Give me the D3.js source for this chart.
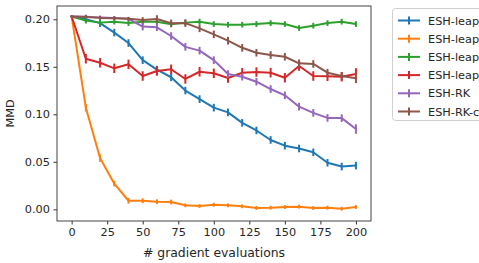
<!DOCTYPE html>
<html><head><meta charset="utf-8">
<script src="https://cdn.jsdelivr.net/npm/d3@7"></script>
<style>body{margin:0;background:#fff;} svg{display:block;font-family:"DejaVu Sans",sans-serif;}</style>
</head><body>
<svg id="c" width="479" height="263"></svg>
<script>
const xs = [0,10,20,30,40,50,60,70,80,90,100,110,120,130,140,150,160,170,180,190,200];
const seriesNames = ["ESH-leapfrog","ESH-leapfrog-ts","ESH-leapfrog-stoch","ESH-leapfrog-lin","ESH-RK","ESH-RK-const"];
const colors = ["#1f77b4","#ff7f0e","#2ca02c","#d62728","#9467bd","#8c564b"];
const blue   = [0.203,0.200,0.196,0.186,0.175,0.157,0.147,0.139,0.125,0.116,0.107,0.102,0.091,0.083,0.073,0.067,0.064,0.060,0.049,0.045,0.046];
const orange = [0.203,0.107,0.054,0.027,0.009,0.009,0.008,0.0077,0.0042,0.0035,0.0048,0.0042,0.0032,0.0014,0.0017,0.0024,0.0028,0.0014,0.0017,0.0007,0.0024];
const green  = [0.203,0.1986,0.1965,0.1975,0.196,0.1975,0.1975,0.1947,0.1965,0.1975,0.195,0.1943,0.1943,0.195,0.196,0.195,0.1908,0.1933,0.196,0.1975,0.195];
const red    = [0.203,0.1585,0.1543,0.1484,0.1526,0.1403,0.1456,0.1474,0.1372,0.1448,0.1432,0.1382,0.1438,0.1445,0.1438,0.1385,0.1508,0.1403,0.140,0.1396,0.1425];
const purple = [0.203,0.2028,0.202,0.2015,0.2005,0.1923,0.1916,0.1824,0.171,0.167,0.157,0.1424,0.1396,0.1343,0.1266,0.1200,0.108,0.1015,0.0962,0.0960,0.0845];
const brown  = [0.203,0.2025,0.2015,0.201,0.2005,0.1993,0.2003,0.1958,0.196,0.1905,0.1842,0.1775,0.170,0.1648,0.1624,0.1606,0.1537,0.153,0.1438,0.1403,0.1379];
const errBlue   = [0.001,0.003,0.004,0.004,0.004,0.004,0.004,0.004,0.004,0.004,0.004,0.004,0.004,0.004,0.004,0.004,0.004,0.004,0.004,0.004,0.004];
const errOrange = [0.001,0.004,0.004,0.003,0.003,0.0025,0.0025,0.0025,0.002,0.002,0.002,0.002,0.002,0.002,0.002,0.002,0.002,0.002,0.002,0.002,0.002];
const errGreen  = [0.001,0.003,0.003,0.003,0.003,0.003,0.003,0.003,0.003,0.003,0.003,0.003,0.003,0.003,0.003,0.003,0.003,0.003,0.003,0.003,0.003];
const errRed    = [0.001,0.005,0.005,0.005,0.005,0.005,0.005,0.005,0.005,0.005,0.005,0.005,0.005,0.005,0.005,0.005,0.005,0.005,0.005,0.005,0.006];
const errPurple = [0.001,0.002,0.002,0.002,0.002,0.004,0.004,0.004,0.004,0.004,0.004,0.004,0.004,0.004,0.004,0.004,0.004,0.004,0.004,0.004,0.005];
const errBrown  = [0.001,0.002,0.002,0.002,0.002,0.003,0.004,0.004,0.004,0.004,0.004,0.004,0.004,0.004,0.004,0.004,0.004,0.004,0.004,0.004,0.005];
const xTicks = [0,25,50,75,100,125,150,175,200];
const yTicks = [0.00,0.05,0.10,0.15,0.20];

const values = [blue,orange,green,red,purple,brown];
const errs = [errBlue,errOrange,errGreen,errRed,errPurple,errBrown];

const svg = d3.select("#c");
const L=57,R=371,T=6,B=221;
const x = d3.scaleLinear().domain([-10.3,210.6]).range([L,R]);
const y = d3.scaleLinear().domain([-0.0123,0.214]).range([B,T]);

const fs = 11.3;
const xa = svg.append("g").attr("transform",`translate(0,${B})`)
  .call(d3.axisBottom(x).tickValues(xTicks).tickSize(3.5).tickPadding(3.5).tickFormat(d3.format("d")));
const ya = svg.append("g").attr("transform",`translate(${L},0)`)
  .call(d3.axisLeft(y).tickValues(yTicks).tickSize(3.5).tickPadding(3.5).tickFormat(d3.format(".2f")));
[xa,ya].forEach(a=>{a.select(".domain").remove();a.selectAll("text").attr("font-size",fs).attr("font-family","DejaVu Sans").attr("fill","#262626");a.selectAll("line").attr("stroke","#333");});

const plot = svg.append("g");
values.forEach((vals,i)=>{
  const pts = xs.map((d,j)=>[d,vals[j],errs[i][j]]);
  plot.append("path").datum(pts).attr("fill","none").attr("stroke",colors[i]).attr("stroke-width",2)
    .attr("stroke-linejoin","round")
    .attr("d",d3.line().x(d=>x(d[0])).y(d=>y(d[1])));
  plot.selectAll(null).data(pts).enter().append("line")
    .attr("x1",d=>x(d[0])).attr("x2",d=>x(d[0]))
    .attr("y1",d=>y(d[1]-d[2])).attr("y2",d=>y(d[1]+d[2]))
    .attr("stroke",colors[i]).attr("stroke-width",2);
});

svg.append("rect").attr("x",L).attr("y",T).attr("width",R-L).attr("height",B-T)
  .attr("fill","none").attr("stroke","#444").attr("stroke-width",1);

svg.append("text").attr("x",(L+R)/2).attr("y",257).attr("text-anchor","middle")
  .attr("font-size",12.4).attr("fill","#262626").text("# gradient evaluations");
svg.append("text").attr("transform",`translate(14,${(T+B)/2}) rotate(-90)`).attr("text-anchor","middle")
  .attr("font-size",fs).attr("fill","#262626").text("MMD");

const lg = svg.append("g");
lg.append("rect").attr("x",392.5).attr("y",8.5).attr("width",120).attr("height",112).attr("rx",3)
  .attr("fill","#fff").attr("stroke","#d0d0d0");
seriesNames.forEach((n,i)=>{
  const yy = 20.5 + i*18.2;
  lg.append("line").attr("x1",398).attr("x2",420).attr("y1",yy).attr("y2",yy).attr("stroke",colors[i]).attr("stroke-width",2);
  lg.append("line").attr("x1",409).attr("x2",409).attr("y1",yy-4).attr("y2",yy+4).attr("stroke",colors[i]).attr("stroke-width",2);
  lg.append("text").attr("x",428).attr("y",yy+4).attr("font-size",fs).attr("fill","#262626").text(n);
});
</script>
</body></html>
